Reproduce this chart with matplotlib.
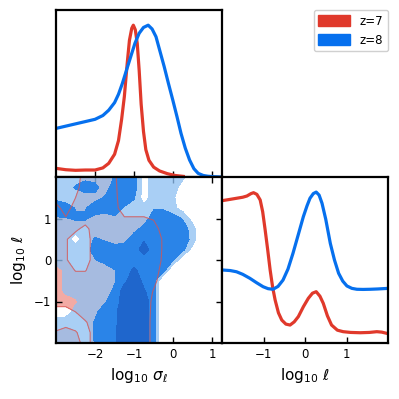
import numpy as np
import matplotlib
matplotlib.use("Agg")
import matplotlib.pyplot as plt
from matplotlib.patches import Patch

# ---------------- data ----------------
labels = ["z=7", "z=8"]
red = "#e0392b"
blue = "#0670ee"

# 1D marginal of log10 sigma_l (top panel)
sig_x_z7 = [-3.0, -2.75, -2.5, -2.25, -2.0, -1.8, -1.65, -1.5, -1.4, -1.32, -1.25, -1.18,
            -1.12, -1.06, -1.02, -0.97, -0.92, -0.87, -0.82, -0.76, -0.70, -0.62, -0.5,
            -0.35, -0.15, 0.05, 0.3]
sig_y_z7 = [0.057, 0.048, 0.044, 0.046, 0.046, 0.06, 0.09, 0.15, 0.24, 0.38, 0.53, 0.74,
            0.90, 0.98, 1.0, 0.97, 0.88, 0.70, 0.48, 0.30, 0.18, 0.11, 0.065,
            0.04, 0.022, 0.01, 0.003]
sig_x_z8 = [-3.0, -2.75, -2.5, -2.25, -2.0, -1.8, -1.65, -1.5, -1.4, -1.3, -1.2, -1.09,
            -0.98, -0.87, -0.76, -0.64, -0.54, -0.44, -0.34, -0.23, -0.12, -0.01, 0.1,
            0.2, 0.31, 0.42, 0.53, 0.64, 0.77, 0.89, 1.05, 1.25]
sig_y_z8 = [0.32, 0.335, 0.35, 0.365, 0.38, 0.405, 0.44, 0.49, 0.545, 0.617, 0.70, 0.79,
            0.88, 0.947, 0.985, 1.0, 0.975, 0.924, 0.83, 0.727, 0.615, 0.507, 0.395,
            0.288, 0.19, 0.112, 0.055, 0.024, 0.01, 0.005, 0.002, 0.0]

# 1D marginal of log10 l (right panel)
ell_x_z7 = [-2.0, -1.8, -1.65, -1.5, -1.4, -1.3, -1.24, -1.16, -1.08, -1.02, -0.96, -0.9,
            -0.84, -0.78, -0.72, -0.64, -0.56, -0.46, -0.36, -0.26, -0.16, -0.04, 0.08,
            0.18, 0.27, 0.36, 0.44, 0.54, 0.64, 0.78, 0.92, 1.1, 1.33, 1.55, 1.73, 1.85, 2.0]
ell_y_z7 = [0.943, 0.952, 0.959, 0.966, 0.974, 0.99, 0.996, 0.985, 0.948, 0.87, 0.749, 0.62,
            0.484, 0.37, 0.285, 0.2, 0.152, 0.125, 0.119, 0.14, 0.175, 0.24, 0.296,
            0.33, 0.34, 0.31, 0.263, 0.18, 0.119, 0.085, 0.075, 0.07, 0.068, 0.07, 0.075, 0.072, 0.062]
ell_x_z8 = [-2.0, -1.8, -1.65, -1.5, -1.33, -1.17, -1.01, -0.89, -0.77, -0.65, -0.53, -0.41,
            -0.29, -0.16, -0.04, 0.05, 0.12, 0.2, 0.27, 0.34, 0.41, 0.5, 0.61, 0.71, 0.81,
            0.91, 1.01, 1.13, 1.25, 1.4, 1.57, 1.75, 2.0]
ell_y_z8 = [0.484, 0.48, 0.472, 0.455, 0.429, 0.40, 0.373, 0.36, 0.356, 0.375, 0.417, 0.49,
            0.594, 0.72, 0.837, 0.91, 0.959, 0.99, 1.0, 0.98, 0.926, 0.82, 0.66, 0.55, 0.462,
            0.41, 0.378, 0.362, 0.356, 0.355, 0.356, 0.358, 0.362]

# 2D credible-level maps (rows: log10 l from 2 down to -2; cols: log10 sigma from -3 to 1.25)
grid_sig = np.linspace(-3.0, 1.25, 18)
grid_ell = np.linspace(2.0, -2.0, 17)
levels_z8 = [
    [0.3, 1, 1.1, 1.2, 1.1, 1, 1.55, 2, 2, 0, 1, 1, 1, 0.7, 0, 0, 0, 0],
    [1, 1, 1.6, 2, 1.8, 1, 2, 2, 2, 0, 1, 1, 1, 0, 0, 0, 0, 0],
    [1.3, 1, 1, 1, 1.2, 1.6, 2, 2, 1.6, 0, 1, 1, 0.6, 0, 0, 0, 0, 0],
    [2, 2, 1.45, 1.45, 2, 2, 2, 1.4, 1, 0.8, 1.4, 1.4, 0.8, 0, 0, 0, 0, 0],
    [1.4, 1.45, 1.6, 1.6, 1.2, 1, 1.3, 1, 1, 1, 2, 2, 2, 1.4, 0, 0, 0, 0],
    [1, 1, 1, 1, 1, 1, 1, 1, 1.2, 1.8, 2, 2, 2, 2, 1.0, -1, 0, 0],
    [1, 1, 0, 1, 1.6, 1.4, 1, 1.2, 2, 2.4, 2, 2, 2, 2, 1.2, -1, 0, 0],
    [1, 1, 1, 1, 2, 2, 2, 2, 2, 3, 2, 2, 2, 1.8, 0, 0, 0, 0],
    [1, 1, 1, 1, 1.45, 1.8, 2, 2, 2, 2, 2, 2, 1.6, -0.5, 0, 0, 0, 0],
    [0, 0.7, 1, 1, 1, 1, 1.45, 2, 2.7, 2, 2, 2, -1, 0, 0, 0, 0, 0],
    [0, 0.75, 1, 1, 1, 1, 1.4, 2.3, 3, 2.3, 2, -1, 0, 0, 0, 0, 0, 0],
    [0, 0.7, 1, 1, 1, 1, 1.7, 3, 3, 2.6, 2, -1, 0, 0, 0, 0, 0, 0],
    [0, 0, 0.3, 1, 1, 1.4, 2, 3, 3, 3, 2, -1, 0, 0, 0, 0, 0, 0],
    [0, 0, 0.9, 1, 1.3, 2, 2.3, 3, 3, 3, 2, -1, 0, 0, 0, 0, 0, 0],
    [1, 1, 1, 1, 1.6, 2, 2.3, 3, 3, 3, 2, -1, 0, 0, 0, 0, 0, 0],
    [1, 1, 1, 1, 1.6, 2, 2.4, 3, 3, 3, 2, -1, 0, 0, 0, 0, 0, 0],
    [1, 1, 1, 1, 1.55, 2, 2.4, 3, 3, 3, 2, -1, 0, 0, 0, 0, 0, 0],
]
levels_z7 = [
    [0, 0, 0, 1, 1, 1, 0.6, 0, 0, 0, 0, 0, 0, 0, 0, 0, 0, 0],
    [0, 0, 0.2, 1, 1, 1, 0.65, 0, 0, 0, 0, 0, 0, 0, 0, 0, 0, 0],
    [0, 0, 0.5, 1, 1, 1, 0.7, 0, 0, 0, 0, 0, 0, 0, 0, 0, 0, 0],
    [0.9, 0, 1, 1, 1, 1, 0.8, 0, 0, 0, 0, 0, 0, 0, 0, 0, 0, 0],
    [1, 0.6, 1, 1, 1, 1, 1, 0.6, 0.6, 0.6, 0.4, 0, 0, 0, 0, 0, 0, 0],
    [1, 1, 0.7, 0.2, 1, 1, 1, 1, 1, 1, 1, 0, 0, 0, 0, 0, 0, 0],
    [1, 0.6, 0, 0, 1, 1, 1, 1, 1, 1, 1, 0.4, 0, 0, 0, 0, 0, 0],
    [1, 0.6, 0, 0, 1, 1, 1, 1, 1, 1, 1, 0.4, 0, 0, 0, 0, 0, 0],
    [1, 0.6, 0, 0, 1, 1, 1, 1, 1, 1, 1, 0.35, 0, 0, 0, 0, 0, 0],
    [1, 1, 0.45, 0.45, 1, 1, 1, 1, 1, 1, 1, 0.1, 0, 0, 0, 0, 0, 0],
    [1, 1, 1, 1, 1, 1, 1, 1, 1, 1, 0.75, 0, 0, 0, 0, 0, 0, 0],
    [1, 1, 1, 1, 1, 1, 1, 1, 1, 1, 0.45, 0, 0, 0, 0, 0, 0, 0],
    [1, 1, 1, 1, 1, 1, 1, 1, 1, 1, 0.3, 0, 0, 0, 0, 0, 0, 0],
    [0, 0, 0.5, 1, 1, 1, 1, 1, 1, 1, 0.25, 0, 0, 0, 0, 0, 0, 0],
    [0, 0, 0, 0.4, 1, 1, 1, 1, 1, 1, 0.2, 0, 0, 0, 0, 0, 0, 0],
    [0.6, 1, 0.6, 0, 1, 1, 1, 1, 1, 1, 0.2, 0, 0, 0, 0, 0, 0, 0],
    [1, 1, 1, 0, 1, 1, 1, 1, 1, 1, 0.2, 0, 0, 0, 0, 0, 0, 0],
]

# ---------------- figure ----------------
plt.rcParams["mathtext.fontset"] = "dejavusans"
fig = plt.figure(figsize=(3.99, 3.99), dpi=100)
W = 399.0
ax_top = fig.add_axes([56 / W, (W - 177) / W, 166 / W, 167 / W])
ax_2d = fig.add_axes([56 / W, (W - 343) / W, 166 / W, 166 / W])
ax_r = fig.add_axes([222 / W, (W - 343) / W, 166 / W, 166 / W])

lw = 2.3
ax_top.plot(sig_x_z7, sig_y_z7, color=red, lw=lw, solid_capstyle="butt")
ax_top.plot(sig_x_z8, sig_y_z8, color=blue, lw=lw, solid_capstyle="butt")
ax_top.set_xlim(-3.0, 1.25)
ax_top.set_ylim(0, 1.1)
ax_top.set_xticks([-2, -1, 0, 1])
ax_top.set_xticklabels([])
ax_top.set_yticks([])

ax_r.plot(ell_x_z7, ell_y_z7, color=red, lw=lw)
ax_r.plot(ell_x_z8, ell_y_z8, color=blue, lw=lw)
ax_r.set_xlim(-2, 2)
ax_r.set_ylim(0, 1.1)
ax_r.set_xticks([-1, 0, 1])
ax_r.set_yticks([])

X, Y = np.meshgrid(grid_sig, grid_ell[::-1])
B = np.array(levels_z8)[::-1]
R = np.array(levels_z7)[::-1]
ax_2d.contourf(X, Y, R, levels=[0.5, 10], colors=["#f2aaa4"], zorder=1)
ax_2d.contourf(X, Y, B, levels=[0.5, 1.5, 2.5, 10],
               colors=[(143 / 255, 193 / 255, 243 / 255, 0.77), "#2a84e8", "#1f66cc"], zorder=2)
ax_2d.contour(X, Y, R, levels=[0.5], colors=["#d9534f"], linewidths=0.8, alpha=0.75, zorder=3)
ax_2d.set_xlim(-3.0, 1.25)
ax_2d.set_ylim(-2, 2)
ax_2d.set_xticks([-2, -1, 0, 1])
ax_2d.set_yticks([-1, 0, 1])
ax_2d.set_xlabel(r"$\log_{10}\,\sigma_\ell$", fontsize=11)
ax_2d.set_ylabel(r"$\log_{10}\,\ell$", fontsize=11)
ax_r.set_xlabel(r"$\log_{10}\,\ell$", fontsize=11)

for ax in (ax_top, ax_2d, ax_r):
    for s in ax.spines.values():
        s.set_linewidth(1.6)
        s.set_zorder(5)
    ax.tick_params(direction="in", length=4, width=1, labelsize=8.5)
ax_2d.tick_params(top=True, right=True)

handles = [Patch(facecolor=red, edgecolor=red), Patch(facecolor=blue, edgecolor=blue)]
fig.legend(handles, labels, loc="upper right", bbox_to_anchor=(388 / W, (W - 10) / W),
           fontsize=8.5, handlelength=2.7, handleheight=1.0, borderaxespad=0.0,
           framealpha=1, edgecolor="#d0d0d0", fancybox=True)

fig.savefig("out.png", dpi=100)
